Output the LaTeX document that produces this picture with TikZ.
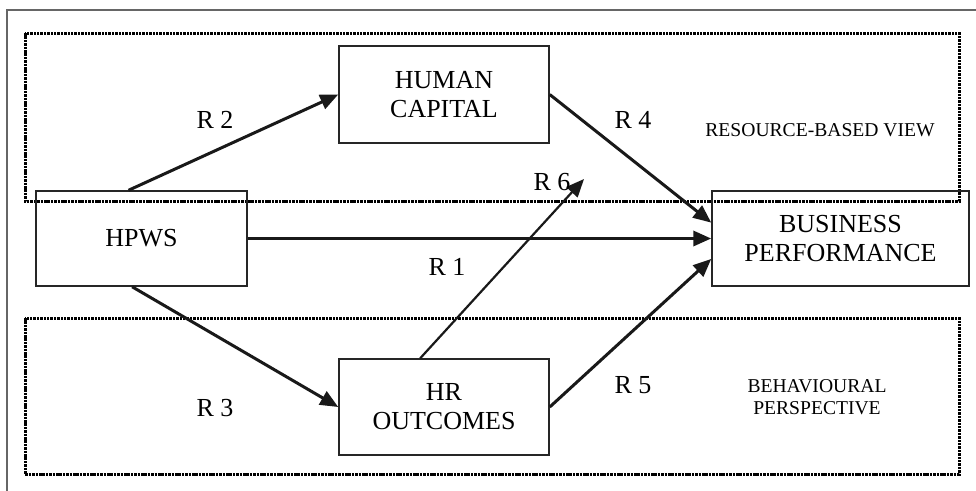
\documentclass[tikz,border=0pt]{standalone}
\usepackage{fontspec}
\setmainfont{Liberation Serif}
\usetikzlibrary{arrows.meta}

\begin{document}
\begin{tikzpicture}[x = 1pt, y = -1pt,
    box/.style = {draw = black!85, line width = 1.5pt, inner sep = 0pt,
      align = center, font = \fontsize{26}{29}\selectfont},
    rlabel/.style = {inner sep = 0pt, font = \fontsize{26}{29}\selectfont},
    viewlabel/.style = {inner sep = 0pt, align = center,
      font = \fontsize{19.6}{22}\selectfont},
    region/.style = {draw = black, line width = 3pt,
      dash pattern = on 2.5pt off 0.9pt},
    link/.style = {draw = black!90, line width = 3.4pt,
      -{Triangle[length = 18pt, width = 15pt]}}]
    \clip (0,0) rectangle (976,490);
    \draw [black!60, line width = 2.2pt] (7,10) rectangle (995,505);
    % the two views
    \draw [region] (25,33) rectangle (959,201);
    \draw [region] (25,318) rectangle (959,474);
    \node [viewlabel] (rbv) at (820,130) {RESOURCE-BASED VIEW};
    \node [viewlabel] (bp-view) at (817,397) {BEHAVIOURAL\\PERSPECTIVE};
    % the four boxes
    \node [box, minimum width = 211pt, minimum height = 95pt]
      (hpws) at (141.5,238.5) {HPWS};
    \node [box, minimum width = 210pt, minimum height = 97pt]
      (hc) at (444,94.5) {HUMAN\\CAPITAL};
    \node [box, minimum width = 210pt, minimum height = 96pt]
      (hr) at (444,407) {HR\\OUTCOMES};
    \node [box, minimum width = 257pt, minimum height = 95pt]
      (bp) at (840.5,238.5) {BUSINESS\\PERFORMANCE};
    \coordinate (r6end) at (584,179);
    % the links
    \draw [link] (hpws.east) -- (bp.west);
    \draw [link, line width = 3pt] (hpws.105) -- (hc.west);
    \draw [link, line width = 3pt] (hpws.259) -- (hr.west);
    \draw [link, line width = 3pt] (hc.east) -- (bp.173);
    \draw [link, line width = 3pt] (hr.east) -- (bp.189);
    \draw [link, line width = 2.2pt] (hr.116) -- (r6end);
    \node [rlabel] (r1) at (447,267) {R 1};
    \node [rlabel] (r2) at (215,120) {R 2};
    \node [rlabel] (r3) at (215,408) {R 3};
    \node [rlabel] (r4) at (633,120) {R 4};
    \node [rlabel] (r5) at (633,385) {R 5};
    \node [rlabel] (r6) at (552,182) {R 6};
\end{tikzpicture}
\end{document}
